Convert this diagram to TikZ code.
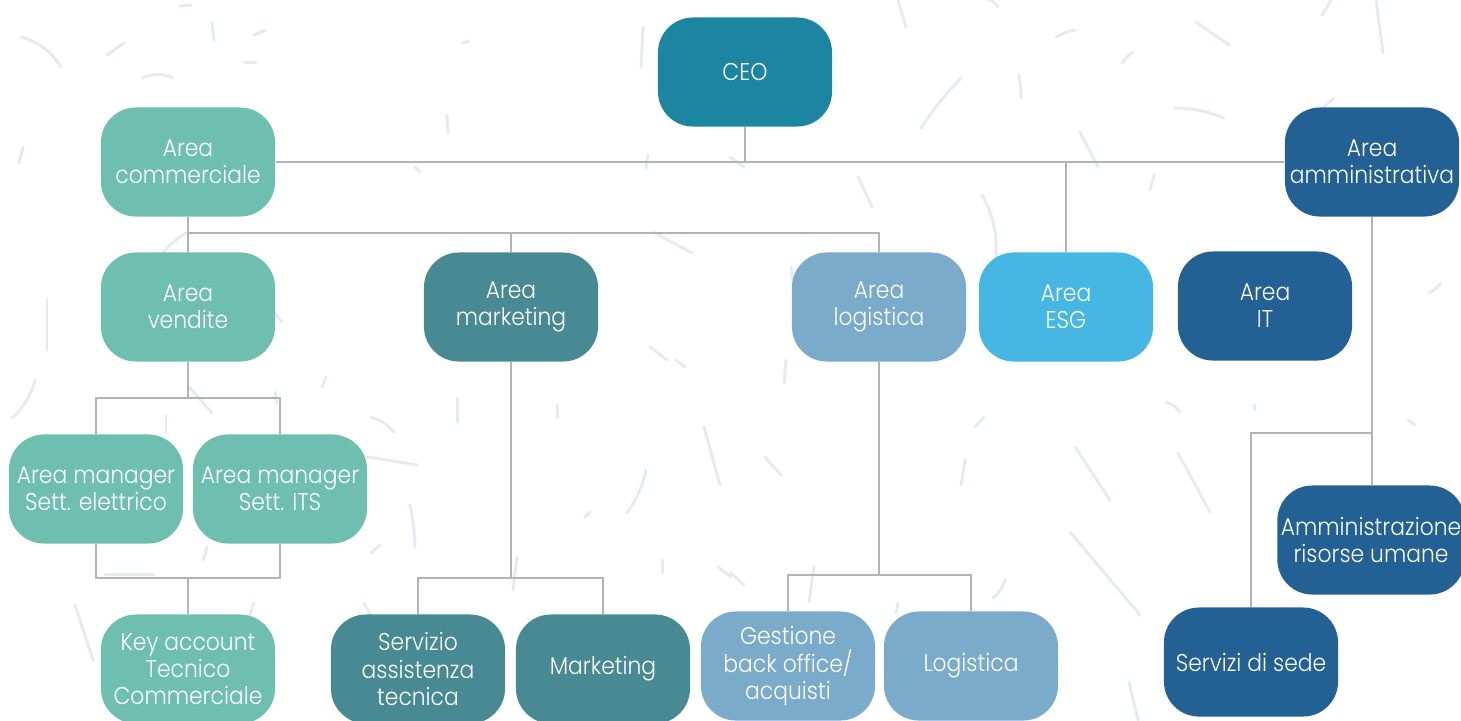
\documentclass[tikz,border=0pt]{standalone}
\usepackage{fontspec}
\setmainfont{Poppins}[UprightFont=* Light, FakeStretch=0.9]
\definecolor{ceoblue}{HTML}{1B85A2}
\definecolor{commgreen}{HTML}{6FBFB1}
\definecolor{mktteal}{HTML}{478A94}
\definecolor{logblue}{HTML}{7AABCB}
\definecolor{esgblue}{HTML}{45B7E2}
\definecolor{ammblue}{HTML}{236094}
\definecolor{linkgray}{HTML}{B3B3B3}
\definecolor{decogray}{HTML}{E4ECF3}
\begin{document}
\begin{tikzpicture}[x=0.01cm,y=-0.01cm,
		box/.style={rounded corners=0.35cm, minimum width=1.74cm, minimum height=1.09cm,
			inner sep=1pt, align=center, text=white,
			font=\fontsize{6.9}{7.7}\selectfont},
		link/.style={draw=linkgray, line width=0.4pt},
		deco/.style={draw=decogray, line width=0.85pt, line cap=round}]
		\useasboundingbox (0,0) rectangle (1461,720);
		% background strokes
		\foreach \xa/\ya/\xb/\yb/\bd in {21/37/61/67/20, 107/55/124/43/0, 212/23/214/40/0,
			254/35/266/30/0, 180/6/191/5/0, 142/78/172/77/20, 245/62/256/62/0, 462/43/469/41/0,
			447/115/448/133/0, 643/27/641/67/0, 23/147/19/163/0, 648/155/646/168/0,
			415/167/420/172/0, 653/232/692/253/0, 163/253/186/233/10, 47/298/47/350/0,
			275/313/282/322/0, 650/347/667/360/0, 898/0/906/27/0, 989/0/998/7/20,
			1056/37/1075/30/10, 1196/22/1229/45/0, 1122/63/1133/52/10, 1322/15/1331/0/0,
			1376/0/1383/53/0, 1019/75/1021/97/5, 921/128/961/78/5, 1175/108/1224/118/10,
			1334/98/1324/107/0, 1080/132/1098/167/0, 858/177/872/207/0, 982/195/996/257/15,
			1154/175/1150/190/0, 791/267/793/283/0, 1441/283/1429/293/10, 730/157/744/167/0,
			35/380/12/418/15, 189/387/212/413/0, 326/377/322/387/0, 275/392/277/403/0,
			166/415/166/433/0, 457/398/457/422/0, 557/405/557/418/0, 371/417/394/432/15,
			704/427/720/485/0, 368/457/417/465/0, 646/470/627/513/10, 590/512/585/517/0,
			410/505/415/547/5, 380/545/371/553/0, 207/547/203/560/0, 105/574/154/574/0,
			517/557/513/590/0, 662/560/662/572/0, 75/605/93/660/0, 254/603/249/617/0,
			364/603/373/620/0, 718/567/731/577/0, 676/360/685/367/0, 786/360/784/383/0,
			765/457/781/475/0, 984/417/975/427/0, 965/460/961/485/0, 1075/447/1110/500/0,
			1178/453/1210/512/0, 1166/402/1180/412/15, 1254/405/1254/410/0, 1408/420/1415/425/0,
			1070/532/1140/615/0, 814/567/809/602/0, 1005/580/993/598/15, 898/603/896/613/0,
			730/572/744/585/0, 1129/682/1138/720/0}
			\draw[deco] (\xa,\ya) to[bend left=\bd] (\xb,\yb);
		% top level
		\node[box, fill=ceoblue] (ceo) at (745,72) {CEO};
		\node[box, fill=commgreen] (comm) at (188,162) {Area\\commerciale};
		\node[box, fill=ammblue] (amm) at (1372,162) {Area\\amministrativa};
		% second level
		\node[box, fill=commgreen] (vend) at (188,307) {Area\\vendite};
		\node[box, fill=mktteal] (mkt) at (511,307) {Area\\marketing};
		\node[box, fill=logblue] (logi) at (879,307) {Area\\logistica};
		\node[box, fill=esgblue] (esg) at (1066,307) {Area\\ESG};
		\node[box, fill=ammblue] (it) at (1265,306) {Area\\IT};
		% sales
		\node[box, fill=commgreen] (mgrel) at (96,489) {Area manager\\Sett. elettrico};
		\node[box, fill=commgreen] (mgrits) at (280,489) {Area manager\\Sett. ITS};
		\node[box, fill=commgreen] (key) at (188,669) {Key account\\Tecnico\\Commerciale};
		% marketing
		\node[box, fill=mktteal] (srv) at (418,669) {Servizio\\assistenza\\tecnica};
		\node[box, fill=mktteal] (mktg) at (603,669) {Marketing};
		% logistics
		\node[box, fill=logblue] (back) at (788,666) {Gestione\\back office/\\acquisti};
		\node[box, fill=logblue] (logis) at (971,666) {Logistica};
		% administration
		\node[box, fill=ammblue] (hr) at (1371,540) {Amministrazione\\risorse umane};
		\node[box, fill=ammblue] (sede) at (1251,662) {Servizi di sede};
		% junctions
		\coordinate (jcomm) at (188,233);
		\coordinate (jvend) at (188,398);
		\coordinate (jmgr) at (188,578);
		\coordinate (jmkt) at (511,578);
		\coordinate (jlog) at (879,575);
		\coordinate (jamm) at (1372,433);
		% connectors
		\draw[link] (ceo.south) |- (comm.east);
		\draw[link] (comm.east) -- (amm.west);
		\draw[link] (esg.north) |- (amm.west);
		\draw[link] (comm.south) -- (vend.north);
		\draw[link] (jcomm) -| (mkt.north);
		\draw[link] (jcomm) -| (logi.north);
		\draw[link] (vend.south) -- (jvend);
		\draw[link] (jvend) -| (mgrel.north);
		\draw[link] (jvend) -| (mgrits.north);
		\draw[link] (mgrel.south) |- (jmgr) -| (mgrits.south);
		\draw[link] (jmgr) -- (key.north);
		\draw[link] (mkt.south) -- (jmkt);
		\draw[link] (jmkt) -| (srv.north);
		\draw[link] (jmkt) -| (mktg.north);
		\draw[link] (logi.south) -- (jlog);
		\draw[link] (jlog) -| (back.north);
		\draw[link] (jlog) -| (logis.north);
		\draw[link] (amm.south) -- (amm.south |- hr.north);
		\draw[link] (jamm) -| (sede.north);
	\end{tikzpicture}
\end{document}
